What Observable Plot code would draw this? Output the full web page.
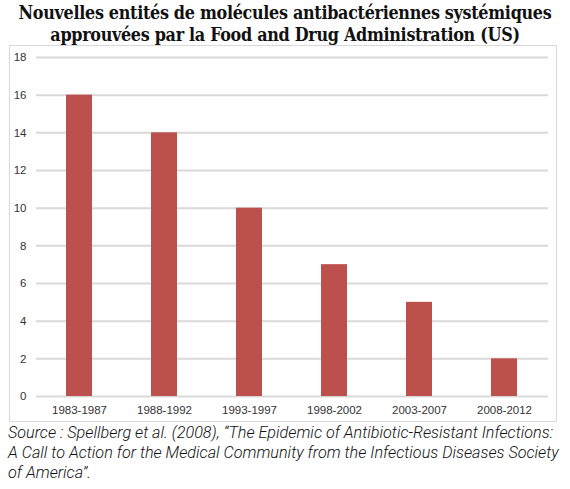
<!DOCTYPE html>
<html>
<head>
<meta charset="utf-8">
<script src="https://cdn.jsdelivr.net/npm/d3@7"></script>
<script src="https://cdn.jsdelivr.net/npm/@observablehq/plot@0.6"></script>
<style>
  body { margin: 0; background: #fff; }
  #wrap { position: relative; width: 570px; height: 489px; overflow: hidden; }
  #title { position: absolute; left: 0; top: 2px; width: 570px; text-align: center;
    font-family: "DejaVu Serif", serif; font-weight: bold; font-size: 17.8px; line-height: 22px;
    color: #111; font-stretch: condensed; letter-spacing: -0.3px; }
  #frame { position: absolute; left: 9px; top: 45px; width: 546px; height: 375px; border: 1px solid #d9d9d9; }
  #chart { position: absolute; left: 0; top: 45px; }
  #caption { position: absolute; left: 8px; top: 423px; width: 570px; white-space: nowrap;
    font-family: Roboto, sans-serif; font-style: italic; font-weight: 300; font-size: 16.2px; line-height: 20px; color: #111; }
</style>
</head>
<body>
<div id="wrap">
  <div id="title">Nouvelles entités de molécules antibactériennes systémiques<br>approuvées par la Food and Drug Administration (US)</div>
  <div id="frame"></div>
  <div id="chart"></div>
  <div id="caption">Source : Spellberg et al. (2008), “The Epidemic of Antibiotic-Resistant Infections:<br>A Call to Action for the Medical Community from the Infectious Diseases Society<br>of America”.</div>
</div>
<script>
const periods = ["1983-1987", "1988-1992", "1993-1997", "1998-2002", "2003-2007", "2008-2012"];
const counts = [16, 14, 10, 7, 5, 2];
const yTicks = [0, 2, 4, 6, 8, 10, 12, 14, 16, 18];

const data = periods.map((p, i) => ({period: p, count: counts[i]}));

const chart = Plot.plot({
  width: 570,
  height: 376,
  marginTop: 12,
  marginBottom: 25,
  marginLeft: 36,
  marginRight: 22,
  style: {fontFamily: "'Liberation Sans', Arial, sans-serif", fontSize: "11.5px", color: "#333", background: "transparent"},
  x: {domain: periods, paddingInner: 0.69, paddingOuter: 0.345, label: null},
  y: {domain: [0, 18], ticks: yTicks, label: null},
  marks: [
    Plot.gridY(yTicks, {stroke: "#d9d9d9", strokeOpacity: 1, strokeWidth: 2}),
    Plot.barY(data, {x: "period", y: "count", fill: "#bb504d"}),
    Plot.axisY({ticks: yTicks, tickSize: 0, tickPadding: 10, label: null}),
    Plot.axisX({tickSize: 0, tickPadding: 9, label: null})
  ]
});
document.getElementById("chart").appendChild(chart);
</script>
</body>
</html>
